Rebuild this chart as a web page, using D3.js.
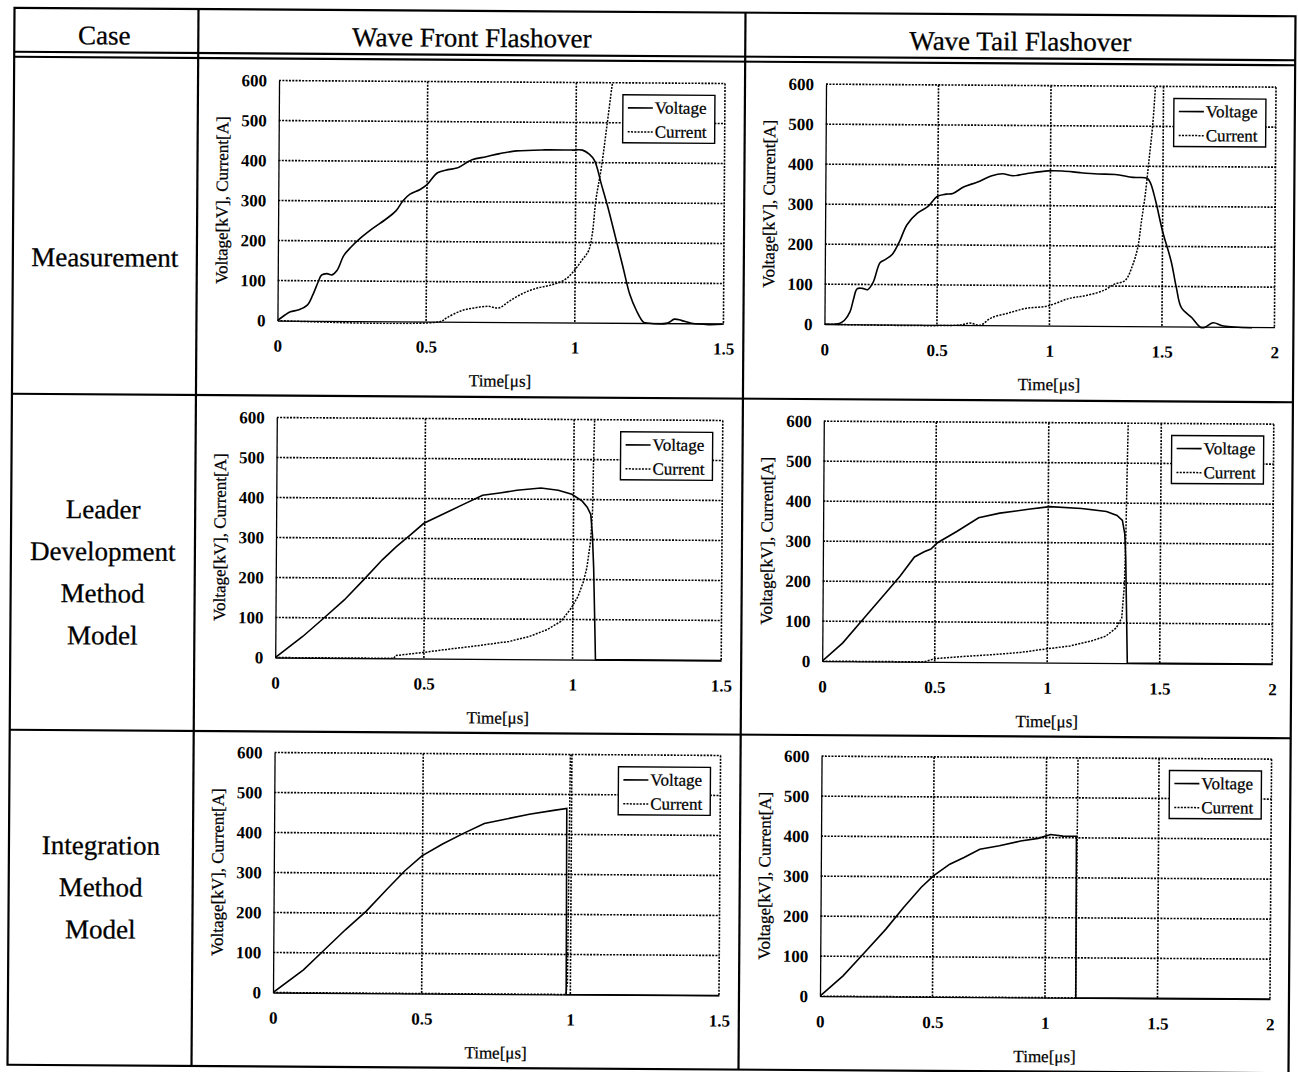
<!DOCTYPE html>
<html>
<head>
<meta charset="utf-8">
<script src="https://cdn.jsdelivr.net/npm/d3@7"></script>
<style>
  body { margin: 0; background: #fff; }
  svg text { font-family: "Liberation Serif", "Times New Roman", serif; fill: #000; }
</style>
</head>
<body>
<svg id="chart" width="1298" height="1072"></svg>
<script>
// table text
var colHeaders = ["Wave Front Flashover", "Wave Tail Flashover"];
var caseLabels = [["Measurement"], ["Leader", "Development", "Method", "Model"], ["Integration", "Method", "Model"]];
var seriesNames = ["Voltage", "Current"];

// axis ticks
var yTicks = [0, 100, 200, 300, 400, 500, 600];
var xTicksFront = [0, 0.5, 1, 1.5];
var xTicksTail = [0, 0.5, 1, 1.5, 2];

// [time us, value]
var measFrontVoltage = [[0,0],[0.025,14],[0.043,22],[0.072,27],[0.10,39],[0.118,64],[0.136,97],[0.147,114],[0.165,118],[0.182,115],[0.199,126],[0.222,164],[0.246,185],[0.28,209],[0.315,230],[0.362,255],[0.396,276],[0.419,301],[0.443,318],[0.477,330],[0.5,342],[0.535,372],[0.57,380],[0.6,384],[0.651,405],[0.698,413],[0.744,421],[0.8,428],[0.895,431],[0.987,431],[1.022,431],[1.045,421],[1.063,405],[1.086,347],[1.109,288],[1.138,205],[1.161,139],[1.184,72],[1.207,31],[1.231,2],[1.242,0],[1.312,0],[1.335,10],[1.358,7],[1.393,0],[1.45,-3],[1.497,-2]];
var measFrontCurrent = [[0,0],[0.547,0],[0.57,10],[0.616,27],[0.663,35],[0.709,39],[0.744,35],[0.779,52],[0.825,72],[0.871,85],[0.918,93],[0.964,106],[0.993,126],[1.022,155],[1.045,180],[1.057,222],[1.068,305],[1.086,388],[1.103,488],[1.12,592],[1.125,620]];

var measTailVoltage = [[0,0],[0.066,2],[0.089,10],[0.113,31],[0.129,64],[0.144,89],[0.168,90],[0.191,87],[0.215,105],[0.246,155],[0.27,163],[0.3,176],[0.332,209],[0.364,250],[0.41,279],[0.457,296],[0.497,321],[0.536,327],[0.567,329],[0.614,345],[0.677,358],[0.74,374],[0.787,379],[0.834,374],[0.897,380],[0.99,387],[1.053,387],[1.132,383],[1.21,380],[1.288,379],[1.367,372],[1.43,370],[1.445,358],[1.469,312],[1.5,238],[1.539,163],[1.563,97],[1.586,47],[1.633,22],[1.672,-2],[1.69,-2],[1.727,10],[1.774,2],[1.9,-2]];
var measTailCurrent = [[0,0],[0.6,0],[0.646,5],[0.693,0],[0.74,18],[0.818,31],[0.897,43],[0.99,49],[1.085,68],[1.163,76],[1.241,89],[1.288,105],[1.335,114],[1.367,151],[1.39,196],[1.406,263],[1.422,329],[1.437,412],[1.453,503],[1.464,598],[1.466,620]];

var leaderFrontVoltage = [[0,0],[0.092,53],[0.162,99],[0.231,145],[0.301,200],[0.358,246],[0.405,279],[0.451,308],[0.497,338],[0.555,359],[0.624,384],[0.694,409],[0.751,415],[0.809,422],[0.89,428],[0.948,423],[0.994,413],[1.029,396],[1.046,381],[1.058,363],[1.064,313],[1.069,229],[1.075,61],[1.077,0],[1.5,0]];
var leaderFrontCurrent = [[0,0],[0.399,0],[0.405,7],[0.497,15],[0.555,21],[0.671,32],[0.786,44],[0.855,57],[0.913,74],[0.96,95],[0.994,128],[1.017,158],[1.035,195],[1.046,229],[1.058,296],[1.064,371],[1.066,480],[1.069,600],[1.07,620]];

var leaderTailVoltage = [[0,0],[0.091,46],[0.186,109],[0.281,172],[0.344,214],[0.407,262],[0.45,275],[0.48,282],[0.509,298],[0.596,327],[0.691,361],[0.785,373],[0.912,383],[1.006,390],[1.148,386],[1.259,379],[1.306,369],[1.33,357],[1.341,323],[1.346,264],[1.35,155],[1.356,0],[2,0]];
var leaderTailCurrent = [[0,0],[0.454,0],[0.5,8],[0.628,14],[0.754,19],[0.88,25],[0.991,34],[1.101,42],[1.196,55],[1.259,67],[1.306,88],[1.33,113],[1.341,197],[1.346,323],[1.35,491],[1.353,597],[1.354,620]];

var integFrontVoltage = [[0,0],[0.102,57],[0.16,99],[0.242,158],[0.312,205],[0.381,260],[0.44,306],[0.498,344],[0.567,374],[0.637,401],[0.707,426],[0.777,437],[0.858,450],[0.94,460],[0.984,465],[0.986,0],[1.5,0]];
var integFrontCurrent = [[0,0],[0.985,0],[0.99,30],[0.995,620]];

var integTailVoltage = [[0,0],[0.102,51],[0.196,109],[0.29,168],[0.369,223],[0.447,274],[0.502,303],[0.573,332],[0.636,349],[0.706,370],[0.793,379],[0.887,391],[0.965,398],[1.02,408],[1.075,404],[1.135,404],[1.137,0],[2,0]];
var integTailCurrent = [[0,0],[1.136,0],[1.14,620]];

// layout
var table = { left: 11, right: 1292, top: 12, bottom: 1069, caseX: 195, midX: 742, head1: 56, head2: 61 };
var rowLines = [61, 398, 734, 1069];
var plotX = [[276, 722], [823, 1273]];
var plotY = [[83, 323], [420, 660], [755, 995]];
var labelY = [261, 576, 891];

var panels = [
  { row: 0, col: 0, ticks: xTicksFront, v: measFrontVoltage, c: measFrontCurrent, smooth: true },
  { row: 0, col: 1, ticks: xTicksTail, v: measTailVoltage, c: measTailCurrent, smooth: true },
  { row: 1, col: 0, ticks: xTicksFront, v: leaderFrontVoltage, c: leaderFrontCurrent },
  { row: 1, col: 1, ticks: xTicksTail, v: leaderTailVoltage, c: leaderTailCurrent },
  { row: 2, col: 0, ticks: xTicksFront, v: integFrontVoltage, c: integFrontCurrent },
  { row: 2, col: 1, ticks: xTicksTail, v: integTailVoltage, c: integTailCurrent }
];

var svg = d3.select('#chart');
// the scan is tilted a little
var root = svg.append('g').attr('transform', 'rotate(0.38,650,540)');

// ---- table frame
var frame = root.append('g').attr('stroke', '#000').attr('stroke-width', 2.2).attr('fill', 'none');
frame.append('rect')
  .attr('x', table.left).attr('y', table.top)
  .attr('width', table.right - table.left).attr('height', table.bottom - table.top);
[table.head1, table.head2].concat(rowLines.slice(1, 3)).forEach(function(y){
  frame.append('line').attr('x1', table.left).attr('x2', table.right).attr('y1', y).attr('y2', y);
});
[table.caseX, table.midX].forEach(function(x){
  frame.append('line').attr('x1', x).attr('x2', x).attr('y1', table.top).attr('y2', table.bottom);
});

// headers
var headX = [(table.left + table.caseX) / 2 - 2, (table.caseX + table.midX) / 2, (table.midX + table.right) / 2];
['Case'].concat(colHeaders).forEach(function(t, i){
  root.append('text')
    .attr('x', headX[i]).attr('y', (table.top + table.head1) / 2 + 5)
    .attr('text-anchor', 'middle').attr('dominant-baseline', 'central')
    .style('font-size', '27px')
    .style('stroke', '#000').style('stroke-width', 0.3)
    .text(t);
});

// case labels
caseLabels.forEach(function(lines, r){
  var n = lines.length, gap = 42;
  lines.forEach(function(t, i){
    root.append('text')
      .attr('x', 103).attr('y', labelY[r] + (i - (n - 1) / 2) * gap)
      .attr('text-anchor', 'middle').attr('dominant-baseline', 'central')
      .style('font-size', '27px')
      .style('stroke', '#000').style('stroke-width', 0.3)
      .text(t);
  });
});

// ---- panels
panels.forEach(function(p, k){
  var x0 = plotX[p.col][0], x1 = plotX[p.col][1],
      y0 = plotY[p.row][0], y1 = plotY[p.row][1],
      xMax = p.ticks[p.ticks.length - 1];

  var x = d3.scaleLinear().domain([0, xMax]).range([x0, x1]);
  var y = d3.scaleLinear().domain([0, 600]).range([y1, y0]);
  var g = root.append('g');

  // grid
  var grid = g.append('g').attr('stroke', '#000').attr('stroke-width', 1.6)
    .attr('stroke-dasharray', '2,1.3').attr('fill', 'none');
  yTicks.slice(1).forEach(function(v){
    grid.append('line').attr('x1', x0).attr('x2', x1).attr('y1', y(v)).attr('y2', y(v));
  });
  p.ticks.slice(1).forEach(function(v){
    grid.append('line').attr('x1', x(v)).attr('x2', x(v)).attr('y1', y0).attr('y2', y1);
  });

  // axes (no tick marks)
  var yAxis = g.append('g').attr('transform', 'translate(' + x0 + ',0)')
    .call(d3.axisLeft(y).tickValues(yTicks).tickSize(0).tickPadding(12).tickFormat(d3.format('d')));
  var xAxis = g.append('g').attr('transform', 'translate(0,' + y1 + ')')
    .call(d3.axisBottom(x).tickValues(p.ticks).tickSize(0).tickPadding(19).tickFormat(function(d){ return String(d); }));
  [yAxis, xAxis].forEach(function(a){
    a.select('.domain').attr('stroke', '#000').attr('stroke-width', 1.3);
    a.selectAll('text').style('font-size', '17px').style('font-weight', 'bold')
      .style('font-family', '"Liberation Serif", "Times New Roman", serif');
  });

  // axis titles
  g.append('text')
    .attr('x', (x0 + x1) / 2).attr('y', y1 + 59)
    .attr('text-anchor', 'middle').attr('dominant-baseline', 'central')
    .style('font-size', '17px')
    .style('stroke', '#000').style('stroke-width', 0.25)
    .text('Time[\u03bcs]');
  g.append('text')
    .attr('transform', 'translate(' + (x0 - 56) + ',' + ((y0 + y1) / 2) + ') rotate(-90)')
    .attr('text-anchor', 'middle').attr('dominant-baseline', 'central')
    .style('font-size', '17px')
    .style('stroke', '#000').style('stroke-width', 0.25)
    .text('Voltage[kV], Current[A]');

  // curves
  var clipId = 'clip' + k;
  g.append('clipPath').attr('id', clipId).append('rect')
    .attr('x', x0).attr('y', y0).attr('width', x1 - x0).attr('height', y1 - y0 + 3);
  var line = d3.line().x(function(d){ return x(d[0]); }).y(function(d){ return y(d[1]); })
    .curve(p.smooth ? d3.curveCatmullRom.alpha(0.5) : d3.curveLinear);
  var curves = g.append('g').attr('clip-path', 'url(#' + clipId + ')').attr('fill', 'none').attr('stroke', '#000');
  curves.append('path').attr('d', line(p.c)).attr('stroke-width', 1.5).attr('stroke-dasharray', '2,1.3');
  curves.append('path').attr('d', line(p.v)).attr('stroke-width', 1.6);

  // legend
  var lw = 92, lh = 48, lx = x1 - 10 - lw, ly = y0 + 12;
  var lg = g.append('g').attr('transform', 'translate(' + lx + ',' + ly + ')');
  lg.append('rect').attr('width', lw).attr('height', lh)
    .attr('fill', '#fff').attr('stroke', '#000').attr('stroke-width', 1.4);
  seriesNames.forEach(function(name, i){
    var yy = 13 + i * 24;
    lg.append('line').attr('x1', 5).attr('x2', 30).attr('y1', yy).attr('y2', yy)
      .attr('stroke', '#000').attr('stroke-width', i ? 1.5 : 1.6)
      .attr('stroke-dasharray', i ? '2,1.3' : null);
    lg.append('text').attr('x', 32).attr('y', yy)
      .attr('dominant-baseline', 'central')
      .style('font-size', '17px')
      .style('stroke', '#000').style('stroke-width', 0.25)
      .text(name);
  });
});
</script>
</body>
</html>
